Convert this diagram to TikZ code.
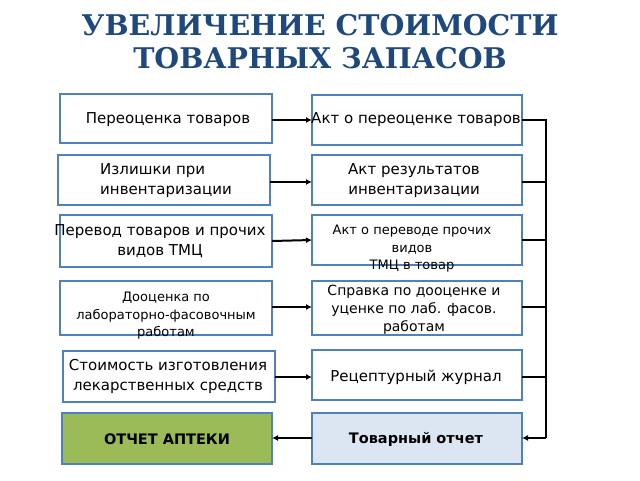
\documentclass[tikz,border=0pt]{standalone}
\usepackage{fontspec}
\setmainfont{DejaVu Sans}
\newfontfamily\titlefont{DejaVu Serif}
\usetikzlibrary{arrows.meta}
\definecolor{bord}{HTML}{4F81BD}
\definecolor{ttl}{HTML}{1F497D}
\definecolor{grn}{HTML}{9BBB59}
\definecolor{lblue}{HTML}{DCE6F2}
\begin{document}
\begin{tikzpicture}[x=1pt,y=-1pt,
  box/.style={draw=bord,line width=1.3pt,fill=white},
  txt/.style={align=center,font=\fontsize{15}{20}\selectfont,inner sep=0},
  stxt/.style={align=center,font=\fontsize{13}{17.5}\selectfont,inner sep=0},
  conn/.style={line width=2pt},
  arr/.style={conn,-{Latex[length=6pt,width=6pt]}}]
\useasboundingbox (0,0) rectangle (640,480);
\node[font=\titlefont\bfseries\fontsize{28.5}{33}\selectfont,text=ttl,align=center] (title) at (320,42) {УВЕЛИЧЕНИЕ СТОИМОСТИ\\ТОВАРНЫХ ЗАПАСОВ};
% boxes
\draw[box] (60,94) rectangle (272,143) node[pos=0.5] (L1) {};
\draw[box] (58,155) rectangle (270,205) node[pos=0.5] (L2) {};
\draw[box] (60,215) rectangle (272,267) node[pos=0.5] (L3) {};
\draw[box] (60,281) rectangle (272,335) node[pos=0.5] (L4) {};
\draw[box] (63,351) rectangle (275,402) node[pos=0.5] (L5) {};
\draw[box,fill=grn] (62,413) rectangle (272,464) node[pos=0.5] (L6) {};
\draw[box] (312,95) rectangle (522,145) node[pos=0.5] (R1) {};
\draw[box] (312,155) rectangle (522,205) node[pos=0.5] (R2) {};
\draw[box] (312,215) rectangle (522,265) node[pos=0.5] (R3) {};
\draw[box] (312,281) rectangle (522,335) node[pos=0.5] (R4) {};
\draw[box] (312,350) rectangle (522,400) node[pos=0.5] (R5) {};
\draw[box,fill=lblue] (312,413) rectangle (522,464) node[pos=0.5] (R6) {};
% texts
\node[txt] (t1) at (168,120) {Переоценка товаров};
\node[txt,align=left] (t2) at (166,181) {Излишки при\\\hspace*{0pt}инвентаризации};
\node[txt] (t3) at (160,241) {Перевод товаров и прочих\\видов ТМЦ};
\node[stxt] (t4) at (166,316) {Дооценка по\\лабораторно-фасовочным\\работам};
\node[txt] (t5) at (168,376) {Стоимость изготовления\\лекарственных средств};
\node[txt,font=\bfseries\fontsize{14.5}{18}\selectfont] (t6) at (167,439) {ОТЧЕТ АПТЕКИ};
\node[txt] (u1) at (416,120) {Акт о переоценке товаров};
\node[txt] (u2) at (414,181) {Акт результатов\\инвентаризации};
\node[stxt] (u3) at (412,249) {Акт о переводе прочих\\видов\\ТМЦ в товар};
\node[stxt,font=\fontsize{14}{18}\selectfont] (u4) at (414,310) {Справка по дооценке и\\уценке по лаб. фасов.\\работам};
\node[txt] (u5) at (416,377) {Рецептурный журнал};
\node[txt,font=\bfseries\fontsize{14.5}{18}\selectfont] (u6) at (416,439) {Товарный отчет};
% connectors
\coordinate (c1) at (546,120);
\coordinate (c6) at (546,438);
\draw[arr] (272,120) -- (312,120);
\draw[arr] (270,182) -- (312,182);
\draw[arr] (272,241) -- (312,240);
\draw[arr] (272,307) -- (312,307);
\draw[arr] (275,377) -- (312,377);
\draw[arr] (312,438) -- (272,438);
\draw[conn] (522,120) -- (c1) -- (c6);
\draw[arr] (c6) -- (522,438);
\draw[conn] (522,182) -- (546,182);
\draw[conn] (522,240) -- (546,240);
\draw[conn] (522,307) -- (546,307);
\draw[conn] (522,377) -- (546,377);
\end{tikzpicture}
\end{document}
